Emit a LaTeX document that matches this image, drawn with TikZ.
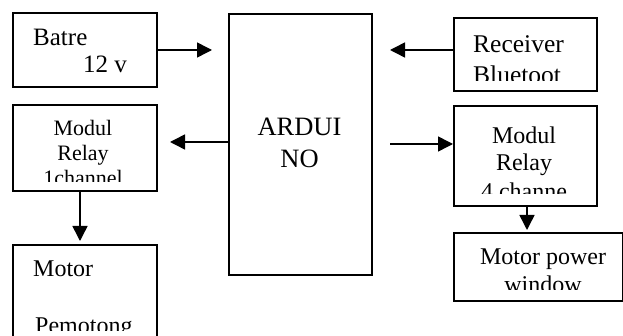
\documentclass[tikz,border=0pt]{standalone}
\usepackage{fontspec}
\setmainfont{Liberation Serif}
\usetikzlibrary{arrows.meta}
\begin{document}
\begin{tikzpicture}[x=1pt, y=-1pt,
	box/.style={draw, line width=1.8pt, rectangle, inner sep=0pt, anchor=north west},
	txt/.style={inner sep=0pt, anchor=base},
	link/.style={-{Triangle[length=15pt,width=15pt]}, line width=1.5pt}]
		\useasboundingbox (0,0) rectangle (623,336);
		% blocks
		\node[box, minimum width=144pt, minimum height=74pt] (batre) at (12,12) {};
		\node[box, minimum width=143pt, minimum height=261pt] (arduino) at (228,13) {};
		\node[box, minimum width=143pt, minimum height=73pt] (receiver) at (453,17) {};
		\node[box, minimum width=144pt, minimum height=86pt] (relayA) at (12,104) {};
		\node[box, minimum width=143pt, minimum height=100pt] (relayB) at (453,105) {};
		\node[box, minimum width=144pt, minimum height=110pt] (motorA) at (12,244) {};
		\node[box, minimum width=169pt, minimum height=68pt] (motorB) at (453,232) {};
		% texts
		\node[txt, anchor=base west, font=\fontsize{25}{29}\selectfont] (t1) at (33,45.7) {Batre};
		\node[txt, anchor=base west, font=\fontsize{25}{29}\selectfont] (t2) at (83,73) {12 v};
		\node[txt, font=\fontsize{26.5}{30}\selectfont] (t3) at (299.5,135.7) {ARDUI};
		\node[txt, font=\fontsize{26.5}{30}\selectfont] (t4) at (299.5,168) {NO};
		\begin{scope}
			\clip (453,17) rectangle (596,80.7);
			\node[txt, anchor=base west, font=\fontsize{25.5}{30}\selectfont] (t5) at (473,53) {Receiver};
			\node[txt, anchor=base west, font=\fontsize{25.5}{30}\selectfont] (t6) at (473,84) {Bluetoot};
		\end{scope}
		\begin{scope}
			\clip (12,104) rectangle (156,182);
			\node[txt, font=\fontsize{22}{26}\selectfont] (t7) at (83,136) {Modul};
			\node[txt, font=\fontsize{22}{26}\selectfont] (t8) at (83,160.7) {Relay};
			\node[txt, font=\fontsize{22}{26}\selectfont] (t9) at (83,185.6) {1channel};
		\end{scope}
		\begin{scope}
			\clip (453,105) rectangle (596,194);
			\node[txt, font=\fontsize{24}{28}\selectfont] (t10) at (524,143.3) {Modul};
			\node[txt, font=\fontsize{24}{28}\selectfont] (t11) at (524,170.7) {Relay};
			\node[txt, font=\fontsize{24}{28}\selectfont] (t12) at (524,200) {4 channe};
		\end{scope}
		\begin{scope}
			\clip (12,244) rectangle (156,330);
			\node[txt, anchor=base west, font=\fontsize{24}{28}\selectfont] (t13) at (33,276.7) {Motor};
			\node[txt, anchor=base west, font=\fontsize{24}{28}\selectfont] (t14) at (35,333) {Pemotong};
		\end{scope}
		\begin{scope}
			\clip (453,232) rectangle (622,290);
			\node[txt, font=\fontsize{24}{28}\selectfont] (t15) at (543,265) {Motor power};
			\node[txt, font=\fontsize{24}{28}\selectfont] (t16) at (543,293) {window};
		\end{scope}
		% arrow ends
		\coordinate (inA) at (212,50);
		\coordinate (inB) at (390,50);
		\coordinate (outA) at (170,142);
		\coordinate (outB) at (390,144);
		\coordinate (downA) at (80,241);
		\coordinate (downB) at (527,230);
		% connections
		\draw[link] (batre.east |- inA) -- (inA);
		\draw[link] (receiver.west |- inB) -- (inB);
		\draw[link] (arduino.west |- outA) -- (outA);
		\draw[link] (outB) -- (relayB.west |- outB);
		\draw[link] (relayA.south -| downA) -- (downA);
		\draw[link] (relayB.south -| downB) -- (downB);
	\end{tikzpicture}
\end{document}
